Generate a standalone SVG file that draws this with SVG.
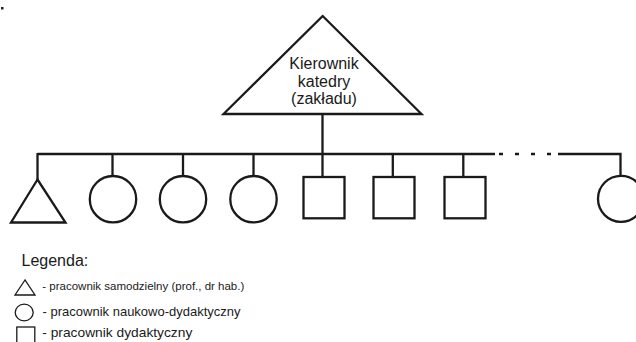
<svg xmlns="http://www.w3.org/2000/svg" width="636" height="342" viewBox="0 0 636 342">
<style>
.s{fill:#fff;stroke:#1a1a1a;stroke-width:2.3}
.c{fill:none;stroke:#1a1a1a;stroke-width:2.3}
.l{fill:#fff;stroke:#1a1a1a;stroke-width:1.3}
text{font-family:"Liberation Sans",Arial,sans-serif;fill:#1a1a1a}
</style>
<rect x="0" y="0" width="636" height="342" fill="#fff"/>
<rect x="1" y="7" width="2.5" height="2.5" fill="#222"/>
<g id="connectors">
<line class="c" x1="322.5" y1="114" x2="322.5" y2="154"/>
<line class="c" x1="37.5" y1="154" x2="495" y2="154"/>
<line class="c" x1="499" y1="154" x2="552" y2="154" stroke-dasharray="4 12"/>
<polyline class="c" points="558,154 620.5,154 620.5,176"/>
<line class="c" x1="37.5" y1="153" x2="37.5" y2="180"/>
<line class="c" x1="112.5" y1="154" x2="112.5" y2="176"/>
<line class="c" x1="183" y1="154" x2="183" y2="176"/>
<line class="c" x1="253.5" y1="154" x2="253.5" y2="176"/>
<line class="c" x1="322.5" y1="154" x2="322.5" y2="177"/>
<line class="c" x1="392.8" y1="154" x2="392.8" y2="177"/>
<line class="c" x1="463.3" y1="154" x2="463.3" y2="177"/>
</g>
<g id="head">
<polygon class="s" points="322.7,16 223.5,114 421.5,114"/>
<text x="324" y="69.3" font-size="16" text-anchor="middle">Kierownik</text>
<text x="324" y="86.6" font-size="16" text-anchor="middle">katedry</text>
<text x="324" y="103.8" font-size="16" text-anchor="middle">(zakładu)</text>
</g>
<g id="n1"><polygon class="s" points="37.5,179.5 11,222.5 65.5,222.5"/></g>
<g id="n2"><circle class="s" cx="113" cy="199.2" r="23.2"/></g>
<g id="n3"><circle class="s" cx="183" cy="199.2" r="23.2"/></g>
<g id="n4"><circle class="s" cx="253.5" cy="199.2" r="23.2"/></g>
<g id="n5"><rect class="s" x="303.5" y="177" width="41" height="41.3"/></g>
<g id="n6"><rect class="s" x="373.5" y="177" width="41" height="41.3"/></g>
<g id="n7"><rect class="s" x="444.5" y="177" width="41" height="41.3"/></g>
<g id="n8"><circle class="s" cx="621" cy="198.8" r="23"/></g>
<g id="legend">
<text x="21.5" y="266" font-size="16">Legenda:</text>
<polygon class="l" points="25,280 15,295 35,295"/>
<text x="42.3" y="290" font-size="11.5" textLength="202" lengthAdjust="spacingAndGlyphs">- pracownik samodzielny (prof., dr hab.)</text>
<ellipse class="l" cx="24.2" cy="312.5" rx="9" ry="8.3"/>
<text x="42.6" y="315.7" font-size="13.3" textLength="198" lengthAdjust="spacingAndGlyphs">- pracownik naukowo-dydaktyczny</text>
<rect class="l" x="16.8" y="327" width="18" height="18"/>
<text x="42.3" y="336.5" font-size="13.5" textLength="150" lengthAdjust="spacingAndGlyphs">- pracownik dydaktyczny</text>
</g>
</svg>
